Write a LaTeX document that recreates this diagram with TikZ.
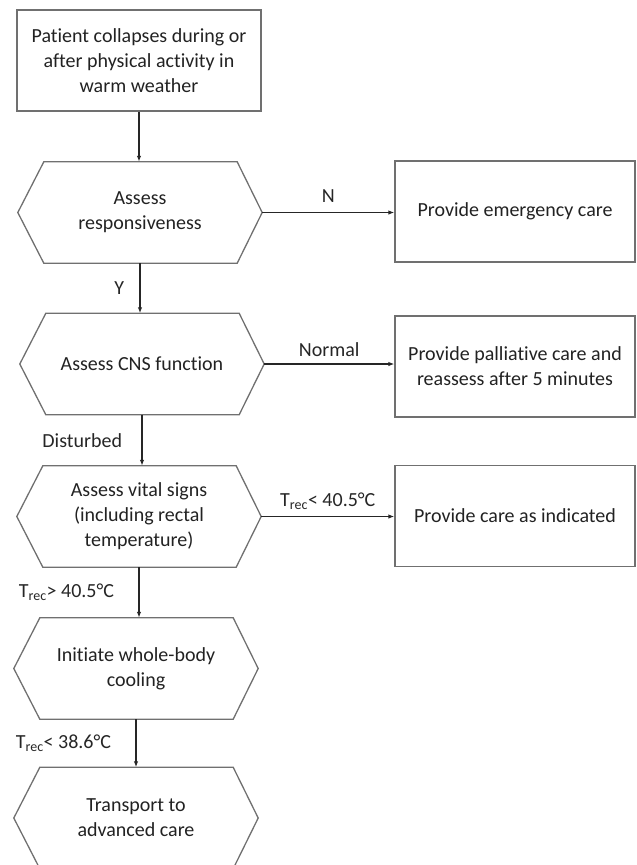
\documentclass[tikz,border=0pt]{standalone}
\usepackage{fontspec}
\setmainfont{Carlito}[Ligatures=NoCommon]
\usetikzlibrary{arrows.meta}
\definecolor{linegray}{HTML}{707070}
\definecolor{txtgray}{HTML}{222222}

\begin{document}
\begin{tikzpicture}
        [x=1pt, y=-1pt, font=\fontsize{20}{25}\selectfont, text=txtgray,
        box/.style={draw=linegray, line width=1.3pt, minimum width=244pt, minimum height=101pt, align=center, inner sep=0pt},
        hex/.style={minimum width=244pt, minimum height=101pt, align=center, inner sep=0pt},
        outline/.style={draw=linegray, line width=1.3pt},
        arrow/.style={-{Latex[length=6pt, width=4.5pt]}, line width=1.2pt, black!85},
        lbl/.style={font=\fontsize{20}{22}\selectfont}]

        \useasboundingbox (0,0) rectangle (637,865);
        \clip (0,0) rectangle (637,865);

        % main column
        \node[box] (start) at (139,60.5) {Patient collapses during or\\after physical activity in\\warm weather};
        \node[hex] (resp) at (140,212.5) {Assess\\responsiveness};
        \node[hex] (cns) at (142,364) {Assess CNS function};
        \node[hex] (vital) at (139,516.5) {Assess vital signs\\(including rectal\\temperature)};
        \node[hex] (cool) at (136,668.5) {Initiate whole-body\\cooling};
        \node[hex] (trans) at (136,818) {Transport to\\advanced care};

        % outcomes on the right
        \node[box, minimum width=240pt] (emerg) at (515,211.5) {Provide emergency care};
        \node[box, minimum width=240pt] (pall) at (515,366.5) {Provide palliative care and\\reassess after 5 minutes};
        \node[box, minimum width=240pt] (indic) at (515,516) {Provide care as indicated};

        % --- hexagon outlines round the decision nodes ---
        \foreach \n in {resp,cns,vital,cool,trans}
            \draw[outline] (\n.west) -- ([xshift=26pt]\n.north west) -- ([xshift=-25pt]\n.north east)
                -- (\n.east) -- ([xshift=-25pt]\n.south east) -- ([xshift=26pt]\n.south west) -- cycle;

        \draw[arrow] (start.south) -- (start.south |- resp.north);
        \draw[arrow] (resp.south) -- (resp.south |- cns.north) node[midway, left=12pt, lbl] {Y};
        \draw[arrow] (cns.south) -- (cns.south |- vital.north) node[midway, left=16pt, lbl] {Disturbed};
        \draw[arrow] (vital.south) -- (vital.south |- cool.north) node[midway, left=21pt, lbl] {T\textsubscript{rec}> 40.5°C};
        \draw[arrow] (cool.south) -- (cool.south |- trans.north) node[midway, left=21pt, lbl] {T\textsubscript{rec}< 38.6°C};

        \draw[arrow] (resp.east) -- (resp.east -| emerg.west) node[midway, above=6pt, lbl] {N};
        \draw[arrow] (cns.east) -- (cns.east -| pall.west) node[midway, above=3pt, lbl] {Normal};
        \draw[arrow] (vital.east) -- (vital.east -| indic.west) node[midway, above=3pt, lbl] {T\textsubscript{rec}< 40.5°C};
\end{tikzpicture}
\end{document}
